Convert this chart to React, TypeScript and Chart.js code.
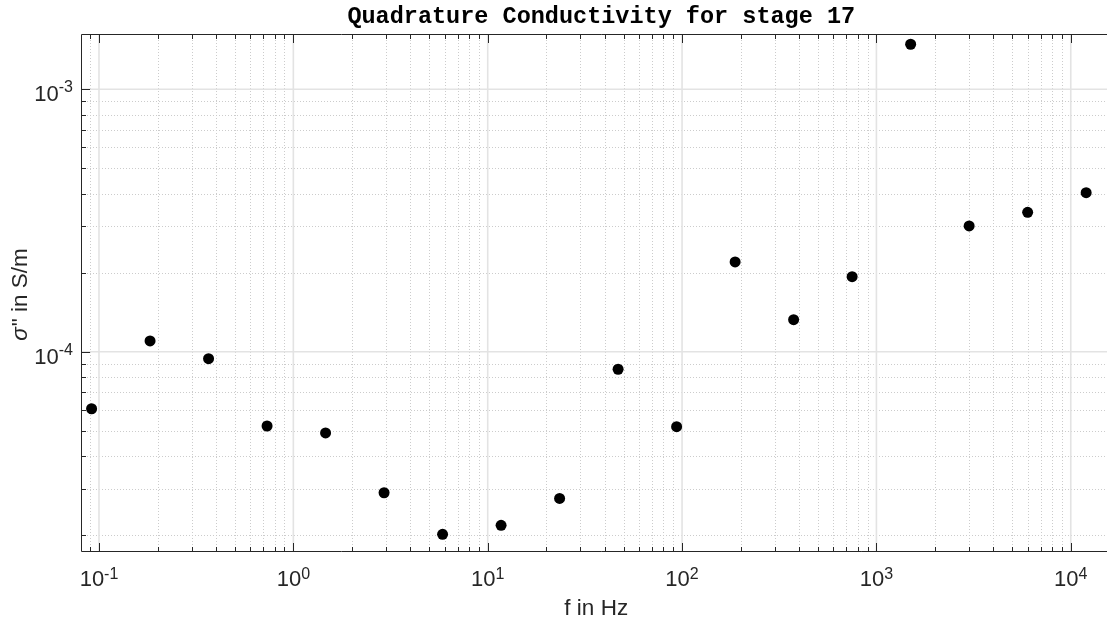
import { useEffect, useRef } from "react";
import { Chart, registerables } from "chart.js";

Chart.register(...registerables);

// ---- data ----
const FREQUENCIES_HZ = [
  0.0916, 0.1831, 0.3662, 0.7324, 1.4648, 2.9297, 5.8594, 11.719, 23.438,
  46.875, 93.75, 187.5, 375, 750, 1500, 3000, 6000, 12000,
];
const SIGMA_QUAD = [
  6.06e-5, 1.099e-4, 9.4e-5, 5.21e-5, 4.9e-5, 2.9e-5, 2.014e-5, 2.18e-5,
  2.76e-5, 8.57e-5, 5.18e-5, 2.197e-4, 1.324e-4, 1.931e-4, 1.484e-3,
  3.013e-4, 3.398e-4, 4.036e-4,
];

// ---- axes ----
const X_RANGE = [0.0808, 18240];
const Y_RANGE = [1.7245e-5, 1.6237e-3];
const X_DECADES = [0.01, 0.1, 1, 10, 100, 1000, 10000];
const X_DECADE_EXPONENTS = ["-2", "-1", "0", "1", "2", "3", "4"];
const Y_DECADES = [1e-5, 1e-4, 1e-3];
const Y_DECADE_EXPONENTS = ["-5", "-4", "-3"];
const MINOR_MULTIPLIERS = [2, 3, 4, 5, 6, 7, 8, 9];

const TITLE = "Quadrature Conductivity for stage 17";
const X_LABEL = "f in Hz";
const Y_LABEL_SYMBOL = "σ";
const Y_LABEL_REST = "\" in S/m";

const AXIS_COLOR = "#262626";
const MAJOR_GRID = "#e3e3e3";
const MINOR_GRID = "#cccccc";
const SANS = '"Liberation Sans", Arial, sans-serif';

const inRange = (v: number, r: number[]) => v >= r[0] && v <= r[1];
const minorsOf = (decades: number[], r: number[]) => {
  const out: number[] = [];
  decades.forEach((d) => MINOR_MULTIPLIERS.forEach((m) => out.push(d * m)));
  return out.filter((v) => inRange(v, r));
};

const matlabAxes = {
  id: "matlabAxes",
  beforeDatasetsDraw(chart: any) {
    const { ctx, chartArea: a, scales } = chart;
    const x = scales.x;
    const y = scales.y;
    ctx.save();
    ctx.beginPath();
    ctx.rect(a.left, a.top, a.right - a.left, a.bottom - a.top);
    ctx.clip();
    // minor grid
    ctx.strokeStyle = MINOR_GRID;
    ctx.lineWidth = 1;
    ctx.setLineDash([1, 2]);
    minorsOf(X_DECADES, X_RANGE).forEach((v) => {
      const px = Math.round(x.getPixelForValue(v)) + 0.5;
      ctx.beginPath();
      ctx.moveTo(px, a.top);
      ctx.lineTo(px, a.bottom);
      ctx.stroke();
    });
    minorsOf(Y_DECADES, Y_RANGE).forEach((v) => {
      const py = Math.round(y.getPixelForValue(v)) + 0.5;
      ctx.beginPath();
      ctx.moveTo(a.left, py);
      ctx.lineTo(a.right, py);
      ctx.stroke();
    });
    // major grid
    ctx.setLineDash([]);
    ctx.strokeStyle = MAJOR_GRID;
    ctx.lineWidth = 1.6;
    X_DECADES.filter((v) => inRange(v, X_RANGE)).forEach((v) => {
      const px = x.getPixelForValue(v);
      ctx.beginPath();
      ctx.moveTo(px, a.top);
      ctx.lineTo(px, a.bottom);
      ctx.stroke();
    });
    Y_DECADES.filter((v) => inRange(v, Y_RANGE)).forEach((v) => {
      const py = y.getPixelForValue(v);
      ctx.beginPath();
      ctx.moveTo(a.left, py);
      ctx.lineTo(a.right, py);
      ctx.stroke();
    });
    ctx.restore();
  },
  afterDraw(chart: any) {
    const { ctx, chartArea: a, scales } = chart;
    const x = scales.x;
    const y = scales.y;
    ctx.save();
    ctx.strokeStyle = AXIS_COLOR;
    ctx.lineWidth = 1;
    const MAJ = 9;
    const MIN = 5;
    const xTick = (v: number, len: number) => {
      const px = Math.round(x.getPixelForValue(v)) + 0.5;
      ctx.beginPath();
      ctx.moveTo(px, a.bottom);
      ctx.lineTo(px, a.bottom - len);
      ctx.moveTo(px, a.top);
      ctx.lineTo(px, a.top + len);
      ctx.stroke();
    };
    const yTick = (v: number, len: number) => {
      const py = Math.round(y.getPixelForValue(v)) + 0.5;
      ctx.beginPath();
      ctx.moveTo(a.left, py);
      ctx.lineTo(a.left + len, py);
      ctx.moveTo(a.right, py);
      ctx.lineTo(a.right - len, py);
      ctx.stroke();
    };
    minorsOf(X_DECADES, X_RANGE).forEach((v) => xTick(v, MIN));
    X_DECADES.filter((v) => inRange(v, X_RANGE)).forEach((v) => xTick(v, MAJ));
    minorsOf(Y_DECADES, Y_RANGE).forEach((v) => yTick(v, MIN));
    Y_DECADES.filter((v) => inRange(v, Y_RANGE)).forEach((v) => yTick(v, MAJ));
    // box
    ctx.beginPath();
    ctx.moveTo(a.left + 0.5, a.top + 0.5);
    ctx.lineTo(a.right - 0.5, a.top + 0.5);
    ctx.lineTo(a.right - 0.5, a.bottom - 0.5);
    ctx.lineTo(a.left + 0.5, a.bottom - 0.5);
    ctx.closePath();
    ctx.stroke();

    // tick labels
    ctx.fillStyle = AXIS_COLOR;
    ctx.textAlign = "left";
    ctx.textBaseline = "alphabetic";
    const BASE_FONT = `22px ${SANS}`;
    const EXP_FONT = `16px ${SANS}`;
    const widths = (exp: string) => {
      ctx.font = BASE_FONT;
      const w1 = ctx.measureText("10").width;
      ctx.font = EXP_FONT;
      const w2 = ctx.measureText(exp).width;
      return [w1, w2];
    };
    X_DECADES.forEach((v, i) => {
      if (!inRange(v, X_RANGE)) return;
      const exp = X_DECADE_EXPONENTS[i];
      const [w1, w2] = widths(exp);
      const px = x.getPixelForValue(v);
      const sx = px - (w1 + w2) / 2;
      ctx.font = BASE_FONT;
      ctx.fillText("10", sx, a.bottom + 34);
      ctx.font = EXP_FONT;
      ctx.fillText(exp, sx + w1, a.bottom + 26.5);
    });
    Y_DECADES.forEach((v, i) => {
      if (!inRange(v, Y_RANGE)) return;
      const exp = Y_DECADE_EXPONENTS[i];
      const [w1, w2] = widths(exp);
      const py = y.getPixelForValue(v);
      const sx = a.left - 8 - (w1 + w2);
      ctx.font = BASE_FONT;
      ctx.fillText("10", sx, py + 12);
      ctx.font = EXP_FONT;
      ctx.fillText(exp, sx + w1, py + 3);
    });

    // title
    ctx.fillStyle = "#000000";
    ctx.font = `bold 23.5px "Liberation Mono", "Courier New", monospace`;
    ctx.textAlign = "center";
    ctx.fillText(TITLE, (a.left + a.right) / 2, 22.5);

    // x label
    ctx.fillStyle = AXIS_COLOR;
    ctx.font = `22.5px ${SANS}`;
    ctx.fillText(X_LABEL, (a.left + a.right) / 2 - 5, a.bottom + 63);

    // y label (rotated)
    ctx.save();
    ctx.translate(27, (a.top + a.bottom) / 2 + 2);
    ctx.rotate(-Math.PI / 2);
    ctx.textAlign = "left";
    const symFont = `italic 22.5px ${SANS}`;
    const restFont = `22.5px ${SANS}`;
    ctx.font = symFont;
    const ws = ctx.measureText(Y_LABEL_SYMBOL).width;
    ctx.font = restFont;
    const wr = ctx.measureText(Y_LABEL_REST).width;
    const start = -(ws + wr) / 2;
    ctx.font = symFont;
    ctx.fillText(Y_LABEL_SYMBOL, start, 0);
    ctx.font = restFont;
    ctx.fillText(Y_LABEL_REST, start + ws + 1, 0);
    ctx.restore();

    ctx.restore();
  },
};

export default function App() {
  const canvasRef = useRef<HTMLCanvasElement | null>(null);

  useEffect(() => {
    const canvas = canvasRef.current;
    if (!canvas) return;
    const chart = new Chart(canvas, {
      type: "scatter",
      data: {
        datasets: [
          {
            data: FREQUENCIES_HZ.map((f, i) => ({ x: f, y: SIGMA_QUAD[i] })),
            backgroundColor: "#000000",
            borderWidth: 0,
            pointRadius: 5.5,
            pointHoverRadius: 5.5,
            pointStyle: "circle",
          },
        ],
      },
      options: {
        animation: false,
        responsive: false,
        maintainAspectRatio: false,
        devicePixelRatio: 1,
        layout: { padding: { top: 34, left: 0, right: 1, bottom: 0 } },
        plugins: {
          legend: { display: false },
          tooltip: { enabled: false },
          title: { display: false },
        },
        scales: {
          x: {
            type: "logarithmic",
            min: X_RANGE[0],
            max: X_RANGE[1],
            ticks: { display: false },
            grid: { display: false },
            border: { display: false },
            afterFit: (s: any) => {
              s.height = 70;
            },
          },
          y: {
            type: "logarithmic",
            min: Y_RANGE[0],
            max: Y_RANGE[1],
            ticks: { display: false },
            grid: { display: false },
            border: { display: false },
            afterFit: (s: any) => {
              s.width = 81;
            },
          },
        },
      } as any,
      plugins: [matlabAxes],
    });
    return () => chart.destroy();
  }, []);

  return (
    <div
      style={{
        position: "absolute",
        left: 0,
        top: 0,
        width: 1107,
        height: 622,
        overflow: "hidden",
        background: "#ffffff",
      }}
    >
      <canvas ref={canvasRef} width={1127} height={622} style={{ display: "block" }} />
    </div>
  );
}
